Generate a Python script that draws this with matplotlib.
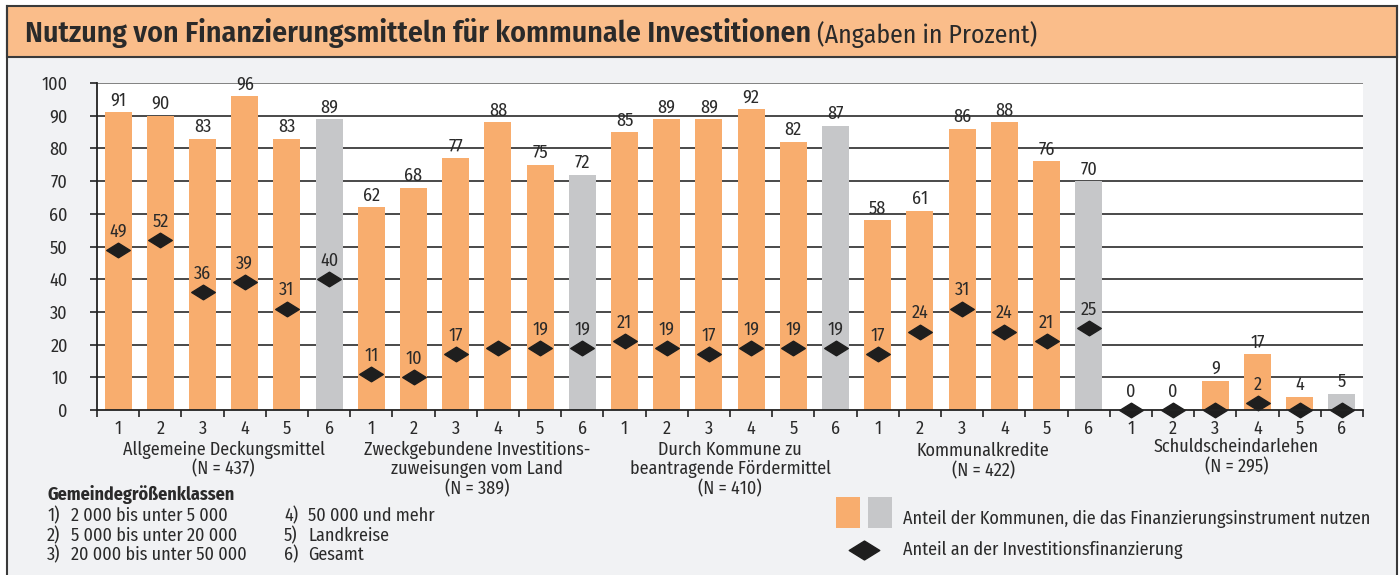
import matplotlib
matplotlib.use("Agg")
import matplotlib.pyplot as plt
import matplotlib.transforms as mtransforms
from matplotlib.patches import Rectangle
from matplotlib.path import Path
import numpy as np

plt.rcParams["font.family"] = ["Fira Sans Condensed", "Liberation Sans Narrow", "DejaVu Sans"]

# ── Data ────────────────────────────────────────────────────────────────────
groups = [
    ["Allgemeine Deckungsmittel", "(N = 437)"],
    ["Zweckgebundene Investitions-", "zuweisungen vom Land", "(N = 389)"],
    ["Durch Kommune zu", "beantragende Fördermittel", "(N = 410)"],
    ["Kommunalkredite", "(N = 422)"],
    ["Schuldscheindarlehen", "(N = 295)"],
]
classes = ["1", "2", "3", "4", "5", "6"]

use_share = [
    91, 90, 83, 96, 83, 89,
    62, 68, 77, 88, 75, 72,
    85, 89, 89, 92, 82, 87,
    58, 61, 86, 88, 76, 70,
    0, 0.4, 9, 17, 4, 5,
]
invest_share = [
    49, 52, 36, 39, 31, 40,
    11, 10, 17, 19, 19, 19,
    21, 19, 17, 19, 19, 19,
    17, 24, 31, 24, 21, 25,
    0, 0, 0, 2, 0, 0,
]
# labels that the original does not print (they would overlap)
hidden_use_labels = {24, 25}
hidden_invest_labels = {9, 26, 28, 29}

legend_classes = [
    ("1)", "2 000 bis unter 5 000"),
    ("2)", "5 000 bis unter 20 000"),
    ("3)", "20 000 bis unter 50 000"),
    ("4)", "50 000 und mehr"),
    ("5)", "Landkreise"),
    ("6)", "Gesamt"),
]

# ── Style ───────────────────────────────────────────────────────────────────
ORANGE = "#F8AD6E"
GREY = "#C6C7C9"
BAND = "#FABD8A"
PANEL = "#F1F2F4"
TXT = "#2a2a2a"
EDGE = "#3a3a3a"
FS = 13

W, H = 1400, 575
fig = plt.figure(figsize=(W / 100, H / 100), dpi=100)

# background overlay in pixel coordinates
bg = fig.add_axes([0, 0, 1, 1], zorder=0)
bg.set_xlim(0, W)
bg.set_ylim(H, 0)
bg.axis("off")
bg.add_patch(Rectangle((7, 57), 1390, H - 57, facecolor=PANEL, edgecolor="none"))
bg.add_patch(Rectangle((7, 6), 1390, 51, facecolor=BAND, edgecolor=EDGE, lw=1.5))
bg.plot([7, 7], [6, H], color=EDGE, lw=1.5)
bg.plot([1397, 1397], [6, H], color=EDGE, lw=1.5)

t1 = bg.text(25, 33, "Nutzung von Finanzierungsmitteln für kommunale Investitionen",
             fontsize=21.5, fontweight=600, color=TXT, va="center", ha="left")
bg.annotate(" (Angaben in Prozent)", xy=(1, 0), xycoords=t1, fontsize=18.5,
            color=TXT, va="bottom", ha="left")

# ── Chart ───────────────────────────────────────────────────────────────────
ax = fig.add_axes([97 / W, 1 - 410 / H, (1363 - 97) / W, (410 - 83) / H], zorder=1)
ax.set_facecolor("white")

n = len(use_share)
x = np.arange(n)
colors = [GREY if i % 6 == 5 else ORANGE for i in range(n)]

ax.set_xlim(-0.5, n - 0.5)
ax.set_ylim(0, 100)
ax.set_yticks(np.arange(0, 101, 10))
for yv in range(10, 101, 10):
    ax.axhline(yv, color=EDGE if yv < 100 else "#777777", lw=1.3, zorder=0.5)

ax.bar(x, use_share, width=0.64, color=colors, zorder=2)

diamond = Path([(-1, 0), (0, 0.62), (1, 0), (0, -0.62), (-1, 0)],
               [Path.MOVETO, Path.LINETO, Path.LINETO, Path.LINETO, Path.CLOSEPOLY])
ax.plot(x, invest_share, linestyle="none", marker=diamond, markersize=17,
        color="#1e1e1e", zorder=4, clip_on=False)

for i, v in enumerate(use_share):
    if i in hidden_use_labels:
        continue
    ax.annotate(f"{v:.0f}", (i, v), xytext=(0, 2), textcoords="offset points",
                ha="center", va="bottom", fontsize=FS, color=TXT, zorder=5)
for i, v in enumerate(invest_share):
    if i in hidden_invest_labels:
        continue
    ax.annotate(f"{v:.0f}", (i, v), xytext=(0, 7), textcoords="offset points",
                ha="center", va="bottom", fontsize=FS, color=TXT, zorder=5)

for side in ["top", "right"]:
    ax.spines[side].set_visible(False)
for side in ["left", "bottom"]:
    ax.spines[side].set_color("#222222")
    ax.spines[side].set_linewidth(1.3)
    ax.spines[side].set_zorder(6)

ax.tick_params(axis="y", length=5, width=1.2, color="#222222", pad=16,
               labelsize=FS, labelcolor=TXT)
ax.set_xticks(x)
ax.set_xticklabels(classes * len(groups))
ax.tick_params(axis="x", length=0, pad=7, labelsize=FS, labelcolor=TXT)
ax.set_xticks(np.arange(-0.5, n, 1.0), minor=True)
ax.tick_params(axis="x", which="minor", length=5, width=1.2, color="#222222")

# group labels below the class numbers
trans = mtransforms.blended_transform_factory(ax.transData, bg.transData)
group_line_y = [[450, 469], [450, 469, 489], [450, 469, 489], [451, 471], [447, 467]]
for g, lines in enumerate(groups):
    cx = g * 6 + 2.5
    for line, yy in zip(lines, group_line_y[g]):
        ax.text(cx, yy, line, transform=trans, ha="center", va="center",
                fontsize=FS, color=TXT, clip_on=False)

# ── Legends ─────────────────────────────────────────────────────────────────
bg.text(47, 494, "Gemeindegrößenklassen", fontsize=13, fontweight="bold",
        color=TXT, va="center", ha="left")
for k, (num, label) in enumerate(legend_classes):
    col, row = divmod(k, 3)
    x0 = 47 + col * 237
    yy = 516 + row * 19.5
    bg.text(x0, yy, num, fontsize=13, color=TXT, va="center", ha="left")
    bg.text(x0 + 24, yy, label, fontsize=13, color=TXT, va="center", ha="left")

bg.add_patch(Rectangle((836, 497), 24, 31, facecolor=ORANGE, edgecolor="none"))
bg.add_patch(Rectangle((868, 497), 24, 31, facecolor=GREY, edgecolor="none"))
bg.text(903, 519, "Anteil der Kommunen, die das Finanzierungsinstrument nutzen",
        fontsize=FS, color=TXT, va="center", ha="left")
bg.plot([864], [550], marker=diamond, markersize=22, color="#1e1e1e", linestyle="none")
bg.text(903, 550, "Anteil an der Investitionsfinanzierung",
        fontsize=FS, color=TXT, va="center", ha="left")

fig.savefig("out.png", dpi=100)
